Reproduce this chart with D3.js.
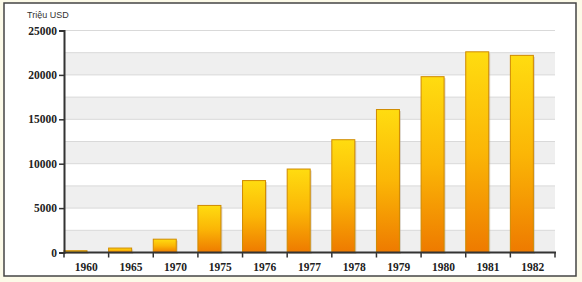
<!DOCTYPE html>
<html>
<head>
<meta charset="utf-8">
<script src="https://cdn.jsdelivr.net/npm/d3@7"></script>
<style>
  body { margin: 0; background: #fcfae8; }
  svg { display: block; }
</style>
</head>
<body>
<svg id="svg" width="582" height="282"></svg>
<script>
// data
const years = ["1960", "1965", "1970", "1975", "1976", "1977", "1978", "1979", "1980", "1981", "1982"];
const values = [200, 500, 1500, 5300, 8100, 9400, 12700, 16100, 19800, 22600, 22200];
const yTicks = [0, 5000, 10000, 15000, 20000, 25000];
const unitLabel = "Triệu USD";

let svg = d3.select("#svg");
const mLeft = 64, mRight = 555, mTop = 30.5, mBottom = 252.5;

// frame
svg.append("rect")
  .attr("x", 4).attr("y", 3)
  .attr("width", 572).attr("height", 273)
  .attr("fill", "#fff")
  .attr("stroke", "#444")
  .attr("stroke-width", 1.5);

let xScale = d3.scaleBand().domain(years).range([mLeft, mRight]).padding(0);
let yScale = d3.scaleLinear().domain([0, 25000]).range([mBottom, mTop]);

// alternating bands every 2500
let bandSteps = d3.range(0, 25000, 2500);
svg.append("g")
  .selectAll("rect")
  .data(bandSteps.filter((d, i) => i % 2 === 0))
  .enter()
  .append("rect")
  .attr("x", mLeft)
  .attr("width", mRight - mLeft)
  .attr("y", (d) => yScale(d + 2500))
  .attr("height", (d) => yScale(d) - yScale(d + 2500))
  .attr("fill", "#efefef");

svg.append("g")
  .selectAll("line")
  .data(d3.range(2500, 25001, 2500))
  .enter()
  .append("line")
  .attr("x1", mLeft).attr("x2", mRight)
  .attr("y1", (d) => yScale(d)).attr("y2", (d) => yScale(d))
  .attr("stroke", "#d9d9d9")
  .attr("stroke-width", 1);

// gradient for bars
let defs = svg.append("defs");
let grad = defs.append("linearGradient")
  .attr("id", "barGrad")
  .attr("x1", 0).attr("y1", 0).attr("x2", 0).attr("y2", 1);
grad.append("stop").attr("offset", "0%").attr("stop-color", "#ffdc10");
grad.append("stop").attr("offset", "50%").attr("stop-color", "#fbb606");
grad.append("stop").attr("offset", "100%").attr("stop-color", "#ee7a00");

let barW = 23;
let bars = svg.append("g");
// shadow
bars.selectAll(".shadow")
  .data(values)
  .enter()
  .append("rect")
  .attr("class", "shadow")
  .attr("x", (d, i) => xScale(years[i]) + 1.5)
  .attr("y", (d) => yScale(d) + 1.5)
  .attr("width", barW)
  .attr("height", (d) => mBottom - yScale(d))
  .attr("fill", "#b8a890")
  .attr("opacity", 0.45);
bars.selectAll(".bar")
  .data(values)
  .enter()
  .append("rect")
  .attr("class", "bar")
  .attr("x", (d, i) => xScale(years[i]))
  .attr("y", (d) => yScale(d))
  .attr("width", barW)
  .attr("height", (d) => mBottom - yScale(d))
  .attr("fill", "url(#barGrad)")
  .attr("stroke", "#cf8a00")
  .attr("stroke-width", 1);

// y axis
let yAxis = svg.append("g")
  .attr("transform", "translate(" + mLeft + ",0)")
  .call(d3.axisLeft(yScale).tickValues(yTicks).tickSize(5).tickPadding(2).tickFormat(d3.format("d")));
yAxis.select(".domain").attr("stroke", "#333").attr("stroke-width", 2);
yAxis.selectAll(".tick line").attr("stroke", "#333").attr("stroke-width", 1.5);
yAxis.selectAll("text")
  .attr("fill", "#222")
  .style("font-family", "'Liberation Serif', 'Times New Roman', serif")
  .style("font-weight", "bold")
  .style("font-size", "11.5px");

// x axis: ticks at band boundaries
let xAxis = svg.append("g")
  .attr("transform", "translate(0," + mBottom + ")");
xAxis.append("line")
  .attr("x1", mLeft).attr("x2", mRight + 1)
  .attr("stroke", "#333").attr("stroke-width", 2);
xAxis.selectAll(".xt")
  .data(years.concat(["end"]))
  .enter()
  .append("line")
  .attr("class", "xt")
  .attr("x1", (d) => (d === "end" ? mRight : xScale(d)))
  .attr("x2", (d) => (d === "end" ? mRight : xScale(d)))
  .attr("y1", 0).attr("y2", 5)
  .attr("stroke", "#333").attr("stroke-width", 1.5);
xAxis.selectAll("text")
  .data(years)
  .enter()
  .append("text")
  .attr("x", (d) => xScale(d) + xScale.bandwidth() / 2)
  .attr("y", 18)
  .attr("text-anchor", "middle")
  .attr("fill", "#222")
  .style("font-family", "'Liberation Serif', 'Times New Roman', serif")
  .style("font-weight", "bold")
  .style("font-size", "11.5px")
  .text((d) => d);

svg.append("text")
  .attr("x", 27).attr("y", 18)
  .attr("fill", "#333")
  .style("font-family", "'Liberation Sans', Arial, sans-serif")
  .style("font-size", "9px")
  .text(unitLabel);
</script>
</body>
</html>
